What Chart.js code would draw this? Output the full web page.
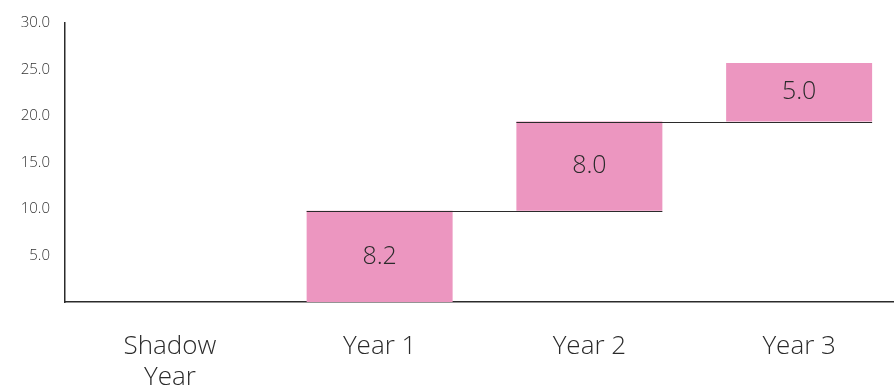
<!DOCTYPE html>
<html>
<head>
<meta charset="utf-8">
<script src="https://cdn.jsdelivr.net/npm/chart.js@4"></script>
<style>
  html, body { margin: 0; padding: 0; background: #fff; overflow: hidden; }
  #wrap { width: 905px; height: 386px; }
</style>
</head>
<body>
<div id="wrap"><canvas id="chart"></canvas></div>
<script>
const categories = [['Shadow', 'Year'], 'Year 1', 'Year 2', 'Year 3'];
// floating bar ranges [start, end]
const barStarts = [0, 0, 9.8, 19.4];
const barEnds = [0, 9.8, 19.4, 25.7];
const barLabels = ['', '8.2', '8.0', '5.0'];
const yTicks = [5, 10, 15, 20, 25, 30];

const pink = 'rgb(236, 150, 192)';
const ink = '#2b2b2b';
const font = '"Open Sans", Lato, sans-serif';

// connector lines from the top of one bar to the start of the next
const connectors = {
  id: 'connectors',
  afterDatasetsDraw(chart) {
    const { ctx } = chart;
    const meta = chart.getDatasetMeta(0);
    const y = chart.scales.y;
    ctx.save();
    ctx.strokeStyle = ink;
    ctx.lineWidth = 1.2;
    for (let i = 1; i < barEnds.length - 1; i++) {
      const a = meta.data[i], b = meta.data[i + 1];
      const py = Math.round(y.getPixelForValue(barEnds[i])) + 0.5;
      ctx.beginPath();
      ctx.moveTo(a.x - a.width / 2, py);
      ctx.lineTo(b.x + b.width / 2, py);
      ctx.stroke();
    }
    // value labels in the middle of each bar
    ctx.fillStyle = ink;
    ctx.font = '300 25px ' + font;
    ctx.textAlign = 'center';
    ctx.textBaseline = 'middle';
    meta.data.forEach((bar, i) => {
      if (!barLabels[i]) return;
      const mid = y.getPixelForValue((barStarts[i] + barEnds[i]) / 2);
      ctx.fillText(barLabels[i], bar.x, mid);
    });
    ctx.restore();
  }
};

new Chart(document.getElementById('chart'), {
  type: 'bar',
  data: {
    labels: categories,
    datasets: [{
      data: barStarts.map((s, i) => [s, barEnds[i]]),
      backgroundColor: pink,
      borderWidth: 0,
      categoryPercentage: 1,
      barPercentage: 0.696
    }]
  },
  options: {
    responsive: true,
    maintainAspectRatio: false,
    animation: false,
    layout: { padding: { top: 23, right: 1, left: 0, bottom: 0 } },
    plugins: { legend: { display: false }, tooltip: { enabled: false } },
    scales: {
      x: {
        grid: { display: false },
        border: { display: true, color: ink, width: 1.5 },
        ticks: {
          color: ink,
          padding: 21,
          font: { family: font, size: 26, weight: '300', lineHeight: 1.2 },
          maxRotation: 0
        },
        afterFit(s) { s.height = 84; }
      },
      y: {
        min: 0,
        max: 30,
        grid: { display: false },
        border: { display: true, color: ink, width: 1.5 },
        afterBuildTicks(s) { s.ticks = yTicks.map(v => ({ value: v })); },
        ticks: {
          color: '#333',
          padding: 7,
          font: { family: font, size: 15, weight: '300' },
          callback: v => v.toFixed(1)
        },
        afterFit(s) { s.width = 65; }
      }
    }
  },
  plugins: [connectors]
});
</script>
</body>
</html>
